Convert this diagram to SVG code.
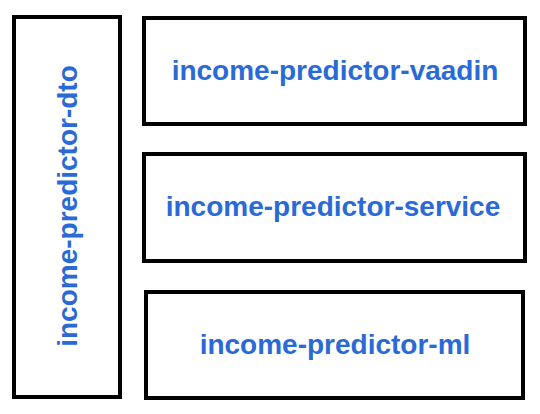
<svg xmlns="http://www.w3.org/2000/svg" width="540" height="414" viewBox="0 0 540 414">
  <style>
    .box { fill: #ffffff; stroke: #000000; stroke-width: 4; }
    .lbl { font-family: "Liberation Sans", Arial, Helvetica, sans-serif; font-weight: bold; font-size: 28px; fill: #2a6ad6; text-anchor: middle; }
  </style>
  <rect width="540" height="414" fill="#ffffff"/>
  <g id="node-dto">
    <rect class="box" x="14" y="17" width="106" height="380"/>
    <text class="lbl" transform="translate(77,206) rotate(-90)" x="0" y="0">income-predictor-dto</text>
  </g>
  <g id="node-vaadin">
    <rect class="box" x="144" y="18" width="381" height="106"/>
    <text class="lbl" x="335" y="80">income-predictor-vaadin</text>
  </g>
  <g id="node-service">
    <rect class="box" x="144" y="154" width="381" height="107"/>
    <text class="lbl" x="333" y="216">income-predictor-service</text>
  </g>
  <g id="node-ml">
    <rect class="box" x="146" y="292" width="377" height="106"/>
    <text class="lbl" x="335" y="354">income-predictor-ml</text>
  </g>
  <g id="connectors"></g>
</svg>
